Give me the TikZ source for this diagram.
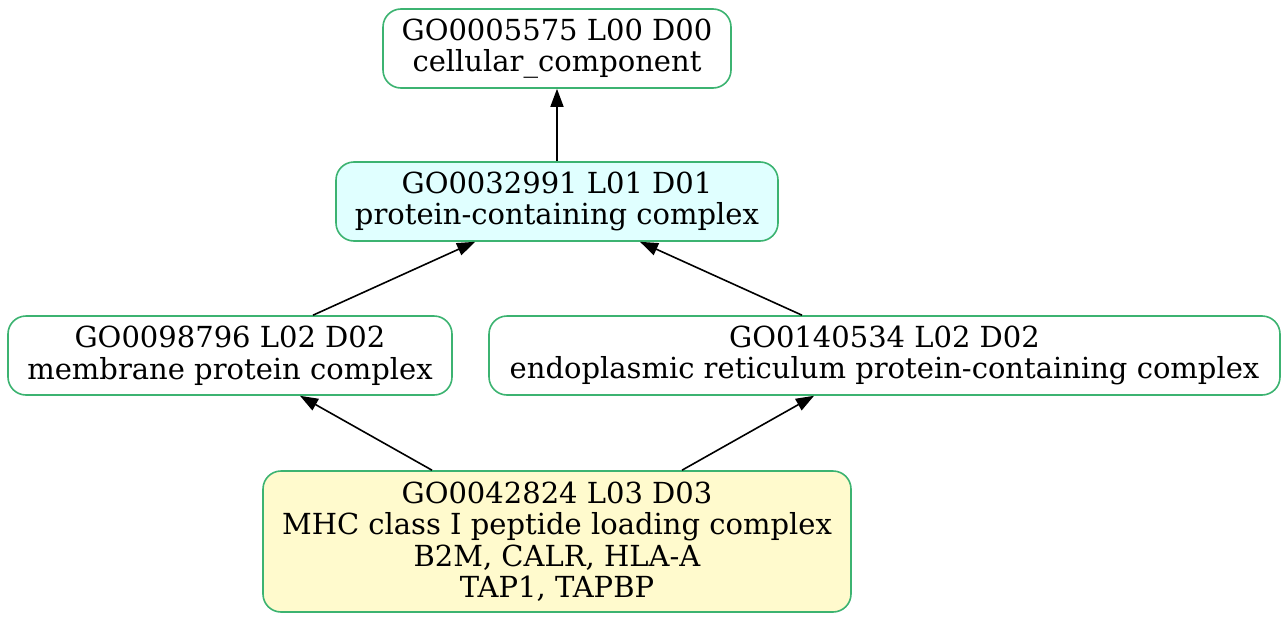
\documentclass[tikz,border=0pt]{standalone}
\usepackage{fontspec}
\setmainfont{DejaVu Serif}
\usepackage{xcolor}
\usepackage{tikz}
\usetikzlibrary{arrows.meta, positioning}

\definecolor{goborder}{HTML}{3CB371}
\definecolor{gocyan}{HTML}{E0FFFF}
\definecolor{goyellow}{HTML}{FFFACD}

\begin{document}
\begin{tikzpicture}[
        x=1pt, y=-1pt,
        goterm/.style={rectangle, draw=goborder, line width=1.6pt, rounded corners=18pt, inner sep=0pt, align=center, font=\fontsize{29}{31.5}\selectfont, fill=#1},
        goterm/.default=white,
        edge/.style={-{Triangle[length=18pt, width=13pt]}, line width=1.6pt}
    ]
        \useasboundingbox (0,0) rectangle (1287,621);

        % Level 0
        \node[goterm, minimum width=348pt, minimum height=79pt] (cc) at (557,48.5) {GO0005575 L00 D00\\cellular\_component};

        % Level 1
        \node[goterm=gocyan, minimum width=442pt, minimum height=79pt] (pcc) at (557,201.5) {GO0032991 L01 D01\\protein-containing complex};

        % Level 2
        \node[goterm, minimum width=444pt, minimum height=79pt] (mpc) at (230,355.5) {GO0098796 L02 D02\\membrane protein complex};
        \node[goterm, minimum width=791pt, minimum height=79pt] (erpc) at (884.5,355.5) {GO0140534 L02 D02\\endoplasmic reticulum protein-containing complex};

        % Level 3
        \node[goterm=goyellow, minimum width=588pt, minimum height=141pt] (mhc) at (557,541.5) {GO0042824 L03 D03\\MHC class I peptide loading complex\\B2M, CALR, HLA-A\\TAP1, TAPBP};

        \draw[edge] (pcc.north) -- (cc.south);
        \draw[edge] ([xshift=83pt]mpc.north) -- ([xshift=-82pt]pcc.south);
        \draw[edge] ([xshift=-82.5pt]erpc.north) -- ([xshift=83pt]pcc.south);
        \draw[edge] ([xshift=-125pt]mhc.north) -- ([xshift=70pt]mpc.south);
        \draw[edge] ([xshift=125pt]mhc.north) -- ([xshift=-70.5pt]erpc.south);
    \end{tikzpicture}
\end{document}
